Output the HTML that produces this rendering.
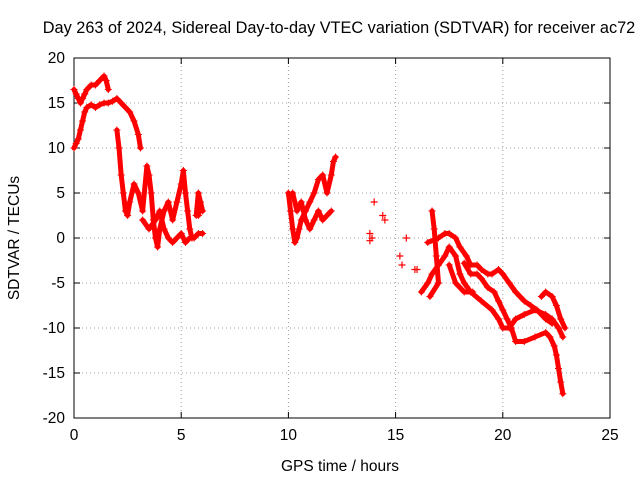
<!DOCTYPE html>
<html><head><meta charset="utf-8"><style>
body{margin:0;background:#fff}
svg{display:block;font-family:"Liberation Sans",sans-serif;font-size:15.5px}
</style></head><body>
<svg id="c" width="640" height="480">
<rect width="640" height="480" fill="#fff"/>
<text x="339" y="33" text-anchor="middle" font-size="16.3">Day 263 of 2024, Sidereal Day-to-day VTEC variation (SDTVAR) for receiver ac72</text>
<text x="340" y="471" text-anchor="middle">GPS time / hours</text>
<text transform="translate(19,238) rotate(-90)" text-anchor="middle">SDTVAR / TECUs</text>
<g id="grid"></g><g id="axes"></g><g id="marks"></g>
</svg>
<script>
const xTicks=[0,5,10,15,20,25];
const yTicks=[-20,-15,-10,-5,0,5,10,15,20];
const trackA_t=[0,0.1,0.2,0.3,0.4,0.5,0.6,0.8,1.0,1.2,1.4,1.5,1.6];
const trackA_v=[16.5,16,15.5,15,15.5,16,16.5,17,17,17.5,18,17.5,16.5];
const trackB_t=[0,0.1,0.2,0.3,0.4,0.5,0.6,0.8,1.0,1.2,1.4,1.6,1.8,2.0,2.2,2.4,2.6,2.8,3.0,3.1];
const trackB_v=[10,10.5,11,12,13,14,14.5,14.8,14.5,14.8,15,15,15.2,15.5,15,14.5,14,13,11.5,10];
const trackC_t=[2.0,2.1,2.2,2.3,2.4,2.5,2.6,2.8,3.0,3.2,3.4,3.5,3.6,3.7,3.8,3.9,4.0,4.2,4.4,4.6,4.8,5.0,5.1,5.2,5.3,5.4,5.5];
const trackC_v=[12,10,7,5,3,2.5,4,6,5,3,8,7,5,2,0,-1,1,3,4,2,4,6,7.5,5,3,1,0];
const trackD_t=[3.2,3.5,3.8,4.0,4.2,4.4,4.6,4.8,5.0,5.2,5.4,5.6,5.8,6.0];
const trackD_v=[2,1,2,3,1,0,-0.5,0,0.5,-0.5,0,0,0.5,0.5];
const trackE_t=[5.7,5.8,5.9,6.0,5.9,5.8];
const trackE_v=[2.5,5,4,3,3.5,2.5];
const trackF_t=[10.0,10.1,10.2,10.3,10.4,10.5,10.6,10.8,11.0,11.2,11.4,11.6,11.8,12.0,12.1,12.2];
const trackF_v=[5,3,1,-0.5,0,1,2,3,4,5,6.5,7,5,7,8.5,9];
const trackG_t=[10.2,10.4,10.6,10.8,11.0,11.2,11.4,11.6,11.8,12.0];
const trackG_v=[5,3,4,2,1,2,3,2,2.5,3];
const isolated_t=[13.8,13.9,13.8,14.0,14.4,14.5,15.2,15.3,15.5,15.9,16.0];
const isolated_v=[0.5,0,-0.3,4,2.5,2,-2,-3,0,-3.5,-3.5];
const trackH_t=[16.2,16.5,16.7,17.0,17.3,17.5,17.8,18.0,18.2,18.5,19.0,19.5,19.8,20.0,20.3,20.6,21.0,21.5,22.0,22.3,22.6,22.8];
const trackH_v=[-6,-5,-4,-3,-2,-1,-2,-4,-5,-6,-7,-8,-9,-10,-10,-9,-8.5,-8,-8.5,-9,-10,-11];
const trackI_t=[16.5,17.0,17.3,17.5,17.8,18.0,18.3,18.5,18.8,19.0,19.3,19.5,19.8,20.0,20.3,20.6,20.8,21.0,21.3,21.6,22.0,22.3];
const trackI_v=[-0.5,0,0.5,0.5,0,-1,-2,-3,-3,-3.5,-4,-4,-3.5,-4,-5,-6,-6.5,-7,-7.5,-8,-9,-9.5];
const trackJ_t=[18.2,18.5,18.8,19.0,19.3,19.6,19.8,20.0,20.2,20.4,20.6,21.0,21.5,22.0,22.2,22.4,22.5,22.6,22.7,22.8];
const trackJ_v=[-2.8,-4,-4,-4.5,-5.5,-6,-7,-8,-9,-10,-11.5,-11.5,-11,-10.5,-11,-12,-13,-14.5,-16,-17.3];
const trackK_t=[21.8,22.0,22.3,22.5,22.7,22.9];
const trackK_v=[-6.5,-6,-6.5,-7.5,-9,-10];
const trackL_t=[16.7,16.8,16.9,17.0,16.6];
const trackL_v=[3,1,-2,-5,-6.5];
const trackM_t=[17.5,17.8,18.2,18.6];
const trackM_v=[-3,-5,-6,-6];

const X0=74,X1=610,Y0=418,Y1=58;
const sx=t=>X0+(t-0)/25*(X1-X0);
const sy=v=>Y0-(v+20)/40*(Y0-Y1);
const NS="http://www.w3.org/2000/svg";
function mk(tag,attrs,parent){const e=document.createElementNS(NS,tag);for(const k in attrs)e.setAttribute(k,attrs[k]);parent.appendChild(e);return e;}
const grid=document.getElementById('grid'),axes=document.getElementById('axes'),marks=document.getElementById('marks');
xTicks.forEach(t=>{
  if(t>0&&t<25){const g=mk('line',{x1:sx(t),x2:sx(t),y1:Y1,y2:Y0,stroke:'#a0a0a0','stroke-dasharray':'1,3'},grid);
  
  }
  const l=mk('text',{x:sx(t),y:Y0+22,'text-anchor':'middle'},axes);l.textContent=t;
  
  
  mk('line',{x1:sx(t),x2:sx(t),y1:Y0,y2:Y0-6,stroke:'#000'},axes);
  mk('line',{x1:sx(t),x2:sx(t),y1:Y1,y2:Y1+6,stroke:'#000'},axes);
});
yTicks.forEach(v=>{
  if(v>-20&&v<20){const g=mk('line',{x1:X0,x2:X1,y1:sy(v),y2:sy(v),stroke:'#a0a0a0','stroke-dasharray':'1,3'},grid);
  
  }
  const l=mk('text',{x:X0-9,y:sy(v)+5,'text-anchor':'end'},axes);l.textContent=v;
  
  
  mk('line',{x1:X0,x2:X0+6,y1:sy(v),y2:sy(v),stroke:'#000'},axes);
  mk('line',{x1:X1,x2:X1-6,y1:sy(v),y2:sy(v),stroke:'#000'},axes);
});
const fr=mk('rect',{x:X0,y:Y1,width:X1-X0,height:Y0-Y1,fill:'none',stroke:'#000'},axes);


const tracks=[[trackA_t,trackA_v],[trackB_t,trackB_v],[trackC_t,trackC_v],[trackD_t,trackD_v],[trackE_t,trackE_v],[trackF_t,trackF_v],[trackG_t,trackG_v],[trackH_t,trackH_v],[trackI_t,trackI_v],[trackJ_t,trackJ_v],[trackK_t,trackK_v],[trackL_t,trackL_v],[trackM_t,trackM_v]];
tracks.forEach(([T,V])=>{
  const pts=T.map((t,i)=>sx(t)+','+sy(V[i])).join(' ');
  const pl=mk('polyline',{points:pts,fill:'none',stroke:'#f00','stroke-width':5,'stroke-linejoin':'round','stroke-linecap':'round'},marks);
  
  
  T.forEach((t,i)=>{
    const p=mk('path',{d:`M${sx(t)-3.5},${sy(V[i])}h7M${sx(t)},${sy(V[i])-3.5}v7`,stroke:'#f00','stroke-width':1},marks);
    
    
  });
});
isolated_t.forEach((t,i)=>{
  const p=mk('path',{d:`M${sx(t)-3.5},${sy(isolated_v[i])}h7M${sx(t)},${sy(isolated_v[i])-3.5}v7`,stroke:'#f00','stroke-width':1.2},marks);
  
  
});
</script>
</body></html>
